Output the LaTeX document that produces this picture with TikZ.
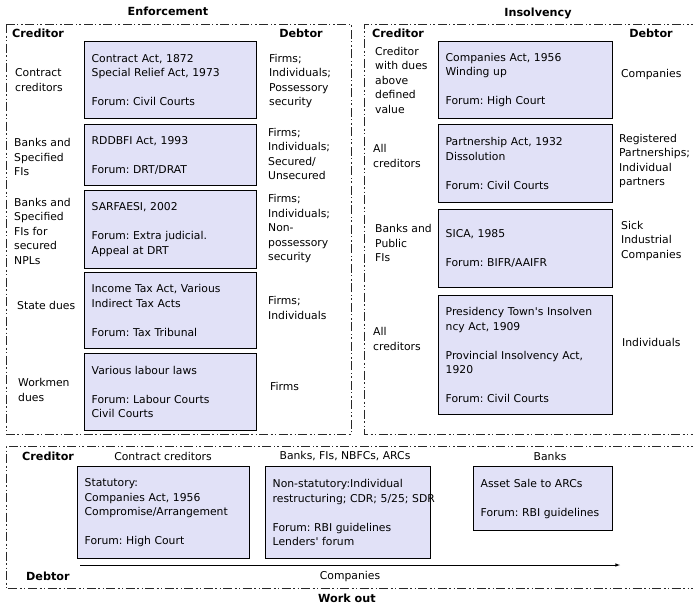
\documentclass[tikz,border=0pt]{standalone}
\usepackage{fontspec}
\setmainfont{DejaVu Sans}
\frenchspacing
\definecolor{boxfill}{RGB}{225,225,247}
\definecolor{framegray}{RGB}{40,40,40}
\tikzset{
  lawbox/.style={draw=black, line width=1.4pt, fill=boxfill, anchor=north west,
    align=left, inner xsep=7pt, inner ysep=0pt},
  side/.style={anchor=west, align=left, inner sep=0pt},
  head/.style={font=\fontsize{11.2}{14.5}\selectfont\bfseries, inner sep=0pt},
  frame/.style={draw=framegray, line width=0.6pt,
    dash pattern=on 9pt off 2.5pt on 2pt off 2.5pt on 1pt off 2.5pt},
}
\begin{document}
\begin{tikzpicture}[x=1pt, y=-1pt, font=\fontsize{10.8}{14.5}\selectfont]
	\useasboundingbox (0,0) rectangle (693,606);
	% frames
	\draw[frame] (6,24) rectangle (351,434);
	\draw[frame] (700,24) -| (364,434) -- (700,434);
	\draw[frame] (700,446) -| (6,588) -- (700,588);
	\node[head] (enftitle) at (168,11) {Enforcement};
	\node[head] (institle) at (538,13) {Insolvency};
	\node[head] (wotitle) at (347,598) {Work out};
	% enforcement
	\node[head, anchor=west] (ecred) at (12,33) {Creditor};
	\node[head] (edebt) at (301,33) {Debtor};
	\node[lawbox, text width=158pt, minimum height=77pt] (contract) at (84,41)
		{Contract Act, 1872\\Special Relief Act, 1973\\[\baselineskip]Forum: Civil Courts};
	\node[lawbox, text width=158pt, minimum height=61pt] (rddbfi) at (84,124)
		{RDDBFI Act, 1993\\[\baselineskip]Forum: DRT/DRAT};
	\node[lawbox, text width=158pt, minimum height=78pt] (sarfaesi) at (84,190)
		{SARFAESI, 2002\\[\baselineskip]Forum: Extra judicial.\\Appeal at DRT};
	\node[lawbox, text width=158pt, minimum height=76pt] (tax) at (84,272)
		{Income Tax Act, Various\\Indirect Tax Acts\\[\baselineskip]Forum: Tax Tribunal};
	\node[lawbox, text width=158pt, minimum height=77pt] (labour) at (84,353)
		{Various labour laws\\[\baselineskip]Forum: Labour Courts\\Civil Courts};
	\node[side] (ccred) at (15,80) {Contract\\creditors};
	\node[side] (bcred) at (14,157) {Banks and\\Specified\\FIs};
	\node[side] (npl) at (14,231) {Banks and\\Specified\\FIs for\\secured\\NPLs};
	\node[side] (state) at (17,305) {State dues};
	\node[side] (workmen) at (18,390) {Workmen\\dues};
	\node[side] (cdebt) at (269,81) {Firms;\\Individuals;\\Possessory\\security};
	\node[side] (bdebt) at (268,154) {Firms;\\Individuals;\\Secured/\\Unsecured};
	\node[side] (npldebt) at (268,229) {Firms;\\Individuals;\\Non-\\possessory\\security};
	\node[side] (statedebt) at (268,308) {Firms;\\Individuals};
	\node[side] (workdebt) at (270,386) {Firms};
	% insolvency
	\node[head, anchor=west] (icred) at (372,33) {Creditor};
	\node[head] (idebt) at (651,33) {Debtor};
	\node[lawbox, text width=160pt, minimum height=77pt] (winding) at (438,41)
		{Companies Act, 1956\\Winding up\\[\baselineskip]Forum: High Court};
	\node[lawbox, text width=160pt, minimum height=78pt] (partner) at (438,124)
		{Partnership Act, 1932\\Dissolution\\[\baselineskip]Forum: Civil Courts};
	\node[lawbox, text width=160pt, minimum height=78pt] (sica) at (438,209)
		{SICA, 1985\\[\baselineskip]Forum: BIFR/AAIFR};
	\node[lawbox, text width=160pt, minimum height=119pt] (presidency) at (438,295)
		{Presidency Town\textquotesingle s Insolven\\ncy Act, 1909\\[\baselineskip]Provincial Insolvency Act,\\1920\\[\baselineskip]Forum: Civil Courts};
	\node[side] (dues) at (375,80) {Creditor\\with dues\\above\\defined\\value};
	\node[side] (allone) at (373,156) {All\\creditors};
	\node[side] (public) at (375,243) {Banks and\\Public\\FIs};
	\node[side] (alltwo) at (373,339) {All\\creditors};
	\node[side] (companies) at (621,75) {Companies};
	\node[side] (partners) at (619,161) {Registered\\Partnerships;\\Individual\\partners};
	\node[side] (sick) at (621,241) {Sick\\Industrial\\Companies};
	\node[side] (indiv) at (622,342) {Individuals};
	% work out
	\node[head, anchor=west] (wcred) at (22,456) {Creditor};
	\node[head, anchor=west] (wdebt) at (26,576) {Debtor};
	\node (wcontract) at (163,456) {Contract creditors};
	\node (wbanks) at (345,456) {Banks, FIs, NBFCs, ARCs};
	\node (wbank) at (550,456) {Banks};
	\node[lawbox, text width=158pt, minimum height=92pt] (statutory) at (77,466)
		{Statutory:\\Companies Act, 1956\\Compromise/Arrangement\\[\baselineskip]Forum: High Court};
	\node[lawbox, text width=151pt, minimum height=92pt] (nonstat) at (265,466)
		{Non-statutory:Individual\\\mbox{restructuring; CDR; 5/25; SDR}\\[\baselineskip]Forum: RBI guidelines\\Lenders\textquotesingle\ forum};
	\node[lawbox, text width=125pt, minimum height=64pt] (assetsale) at (473,466)
		{Asset Sale to ARCs\\[\baselineskip]Forum: RBI guidelines};
	\coordinate (axstart) at (80,565);
	\coordinate (axend) at (620,565);
	\draw[-latex, line width=0.6pt] (axstart) -- node[midway, below=3pt] (wcomp) {Companies} (axend);
\end{tikzpicture}
\end{document}
